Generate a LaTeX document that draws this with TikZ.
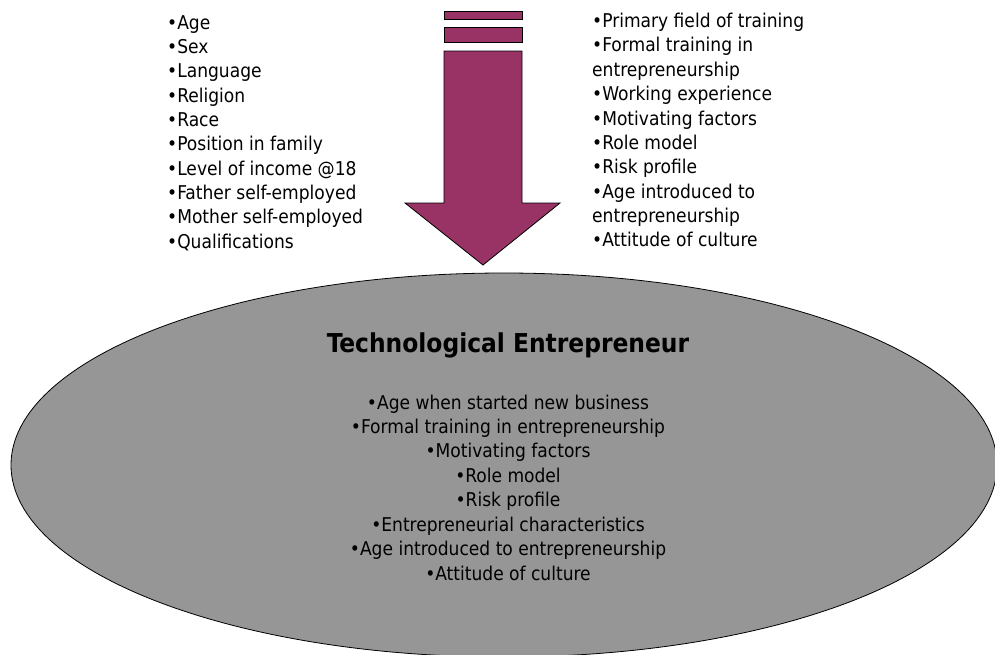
\documentclass[tikz,border=0pt]{standalone}
\usepackage{fontspec}
\setmainfont{DejaVu Sans Condensed}
\usetikzlibrary{shapes.geometric}
\definecolor{arrowfill}{HTML}{993366}
\definecolor{ovalfill}{HTML}{969696}
\tikzset{
  shapeline/.style={draw=black, line width=0.8pt, line join=miter},
  listtext/.style={inner sep=0pt, font=\fontsize{19}{24}\selectfont, text=black},
  titletext/.style={inner sep=0pt, font=\fontsize{26}{30}\selectfont\bfseries, text=black},
}
\begin{document}
\begin{tikzpicture}[x=1pt, y=-1pt]
\useasboundingbox (0,0) rectangle (995,654);
% oval
\node[ellipse, shapeline, fill=ovalfill, inner sep=0pt, minimum width=986pt, minimum height=384pt] (oval) at (504,465) {};
% arrow
\path[shapeline, fill=arrowfill] (444,11) rectangle (522,19);
\path[shapeline, fill=arrowfill] (444,27) rectangle (522,42);
\path[shapeline, fill=arrowfill] (444,51) -- (522,51) -- (522,203) -- (560,203) -- (483,265) -- (405,203) -- (444,203) -- cycle;
% left list
\foreach \t [count=\i from 0] in {Age, Sex, Language, Religion, Race, Position in family, Level of income @18, Father self-employed, Mother self-employed, Qualifications}
  \node[listtext, anchor=base west] (left\i) at (167, 29.3+24.3*\i) {•\t};
% right list
\foreach \t [count=\i from 0] in {•Primary field of training, •Formal training in, entrepreneurship, •Working experience, •Motivating factors, •Role model, •Risk profile, •Age introduced to, entrepreneurship, •Attitude of culture}
  \node[listtext, anchor=base west] (right\i) at (592, 27.6+24.37*\i) {\t};
% title
\node[titletext, anchor=base] (title) at (508,352) {Technological Entrepreneur};
% oval list
\foreach \t [count=\i from 0] in {Age when started new business, Formal training in entrepreneurship, Motivating factors, Role model, Risk profile, Entrepreneurial characteristics, Age introduced to entrepreneurship, Attitude of culture}
  \node[listtext, anchor=base] (inner\i) at (508, 409+24.45*\i) {•\t};
\end{tikzpicture}
\end{document}
